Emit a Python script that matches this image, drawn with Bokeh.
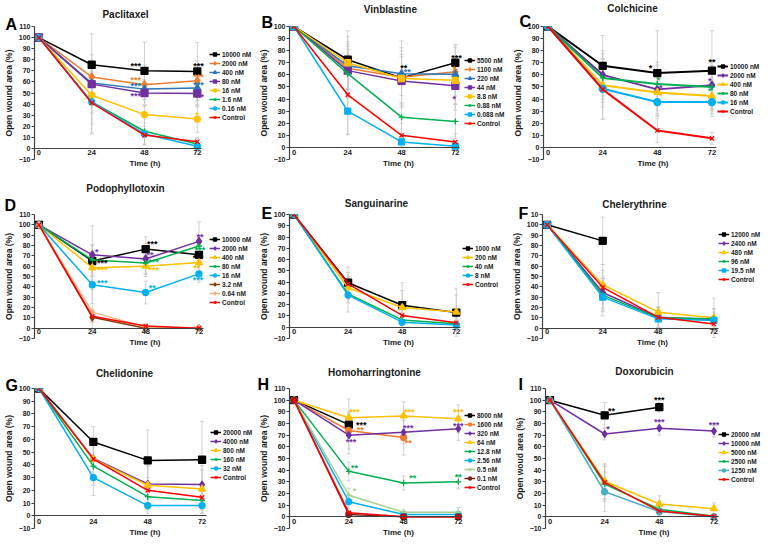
from bokeh.plotting import figure
from bokeh.models import (Range1d, FixedTicker, Legend, LegendItem, Title, LinearAxis,
                          Whisker, ColumnDataSource, TeeHead)
from bokeh.layouts import row, column
from bokeh.embed import file_html
from bokeh.resources import INLINE
from bokeh.core.properties import value

TIMES = [0, 24, 48, 72]
X_TICKS = [0, 24, 48, 72]
YLABEL = "Open wound area (%)"
XLABEL = "Time (h)"

# ---------------- A: Paclitaxel ----------------
A_TITLE = "Paclitaxel"
A_LABELS = ["10000 nM", "2000 nM", "400 nM", "80 nM", "16 nM", "1.6 nM", "0.16 nM", "Control"]
A_VALUES = [[100, 75.5, 70.0, 69.5], [100, 64.5, 57.5, 61.0], [100, 59.0, 53.5, 54.5],
            [100, 58.0, 50.0, 49.5], [100, 48.0, 30.5, 26.5], [100, 42.0, 15.5, 4.0],
            [100, 42.0, 13.0, 2.0], [100, 41.0, 12.0, 6.0]]
A_ERRORS = [[0, 28, 26, 26], [0, 20, 18, 18], [0, 18, 15, 15], [0, 16, 12, 12],
            [0, 16, 14, 12], [0, 20, 12, 5], [0, 28, 10, 4], [0, 28, 8, 4]]
A_STAR_X = [44, 44, 44, 44, 72.5, 72.5, 72.5, 72.5, 72]
A_STAR_Y = [74, 62, 56, 47, 74, 64, 57.5, 46, 30]
A_STAR_T = ["***", "***", "***", "***", "***", "***", "***", "***", "*"]
A_STAR_S = [0, 1, 2, 3, 0, 1, 2, 3, 4]

# ---------------- B: Vinblastine ----------------
B_TITLE = "Vinblastine"
B_LABELS = ["5500 nM", "1100 nM", "220 nM", "44 nM", "8.8 nM", "0.88 nM", "0.088 nM", "Control"]
B_VALUES = [[100, 72.5, 57.5, 70.0], [100, 65.5, 58.0, 62.5], [100, 67.5, 61.0, 60.5],
            [100, 63.5, 55.0, 51.0], [100, 70.0, 57.0, 55.5], [100, 61.0, 25.0, 21.5],
            [100, 30.0, 4.5, 1.0], [100, 43.5, 10.0, 4.5]]
B_ERRORS = [[0, 24, 25, 15], [0, 20, 22, 20], [0, 20, 27, 24], [0, 20, 20, 20],
            [0, 22, 20, 20], [0, 20, 18, 14], [0, 19, 4, 3], [0, 33, 10, 7]]
B_STAR_X = [49, 50.5, 72.5, 71.5, 48.5, 71.5]
B_STAR_Y = [66, 62.5, 74, 65, 51.5, 40]
B_STAR_T = ["**", "**", "***", "*", "*", "*"]
B_STAR_S = [0, 2, 0, 1, 3, 3]

# ---------------- C: Colchicine ----------------
C_TITLE = "Colchicine"
C_LABELS = ["10000 nM", "2000 nM", "400 nM", "80 nM", "16 nM", "Control"]
C_VALUES = [[100, 67.5, 61.5, 63.5], [100, 60.0, 48.0, 51.5], [100, 51.5, 45.5, 42.5],
            [100, 57.5, 52.5, 50.0], [100, 48.5, 37.5, 37.5], [100, 48.0, 14.0, 7.5]]
C_ERRORS = [[0, 25, 35, 33], [0, 20, 20, 20], [0, 18, 15, 15], [0, 20, 18, 18],
            [0, 25, 12, 12], [0, 25, 10, 5]]
C_STAR_X = [45, 72, 48.5, 49.5, 49.5, 71, 71, 71]
C_STAR_Y = [66, 71, 55.5, 49.5, 42.5, 55, 47, 35]
C_STAR_T = ["*", "**", "*", "*", "*", "*", "*", "*"]
C_STAR_S = [0, 0, 3, 1, 2, 1, 3, 4]

# ---------------- D: Podophyllotoxin ----------------
D_TITLE = "Podophyllotoxin"
D_LABELS = ["10000 nM", "2000 nM", "400 nM", "80 nM", "16 nM", "3.2 nM", "0.64 nM", "Control"]
D_VALUES = [[100, 65.0, 76.5, 71.0], [100, 71.0, 67.0, 84.0], [100, 58.5, 60.0, 63.5],
            [100, 66.0, 63.0, 79.5], [100, 42.0, 34.5, 52.5], [100, 10.5, 0.0, 0.0],
            [100, 15.5, 1.0, 0.0], [100, 11.5, 2.0, 0.0]]
D_ERRORS = [[0, 15, 12, 10], [0, 28, 15, 19], [0, 12, 10, 10], [0, 15, 10, 10],
            [0, 18, 11, 8], [0, 5, 1, 1], [0, 22, 2, 1], [0, 5, 2, 1]]
D_STAR_X = [26, 28.5, 28.5, 28.5, 51, 50, 51.5, 51.5, 51, 72.5, 72.5, 71.5, 71, 71.5]
D_STAR_Y = [74, 63, 56, 44, 81.5, 71, 64, 56, 39, 88.5, 76, 68, 58, 47]
D_STAR_T = ["*", "***", "***", "***", "***", "**", "***", "***", "**", "**", "***", "***", "**", "***"]
D_STAR_S = [1, 0, 2, 4, 0, 1, 3, 2, 4, 1, 3, 0, 2, 4]

# ---------------- E: Sanguinarine ----------------
E_TITLE = "Sanguinarine"
E_LABELS = ["1000 nM", "200 nM", "40 nM", "8 nM", "Control"]
E_VALUES = [[100, 39.5, 19.5, 13.0], [100, 35.0, 17.5, 13.5], [100, 29.5, 6.5, 3.0],
            [100, 28.5, 4.5, 2.0], [100, 38.5, 10.5, 4.0]]
E_ERRORS = [[0, 14, 20, 21], [0, 10, 15, 15], [0, 8, 5, 4], [0, 15, 5, 3], [0, 10, 8, 5]]
E_STAR_X, E_STAR_Y, E_STAR_T, E_STAR_S = [], [], [], []

# ---------------- F: Chelerythrine ----------------
F_TITLE = "Chelerythrine"
F_LABELS = ["12000 nM", "2400 nM", "480 nM", "96 nM", "19.5 nM", "Control"]
F_VALUES = [[100, 84.5], [100, 34.5, 10.5, 8.5], [100, 42.0, 15.5, 10.0],
            [100, 32.0, 10.0, 9.0], [100, 30.0, 9.0, 7.5], [100, 39.5, 10.5, 4.0]]
F_ERRORS = [[0, 23], [0, 15, 10, 10], [0, 14, 19, 19], [0, 16, 10, 10],
            [0, 18, 8, 8], [0, 22, 10, 8]]
F_STAR_X, F_STAR_Y, F_STAR_T, F_STAR_S = [], [], [], []

# ---------------- G: Chelidonine ----------------
G_TITLE = "Chelidonine"
G_LABELS = ["20000 nM", "4000 nM", "800 nM", "160 nM", "32 nM", "Control"]
G_VALUES = [[100, 58.0, 43.5, 44.0], [100, 45.0, 25.0, 24.5], [100, 44.5, 24.0, 21.0],
            [100, 39.0, 15.0, 12.0], [100, 30.0, 8.0, 8.0], [100, 44.5, 20.0, 14.5]]
G_ERRORS = [[0, 12, 24, 30], [0, 15, 15, 15], [0, 15, 15, 15], [0, 15, 10, 10],
            [0, 14, 6, 6], [0, 15, 10, 10]]
G_STAR_X, G_STAR_Y, G_STAR_T, G_STAR_S = [], [], [], []

# ---------------- H: Homoharringtonine ----------------
H_TITLE = "Homoharringtonine"
H_LABELS = ["8000 nM", "1600 nM", "320 nM", "64 nM", "12.8 nM", "2.56 nM", "0.5 nM", "0.1 nM", "Control"]
H_VALUES = [[100, 79.0], [100, 74.0, 68.0], [100, 70.0, 72.5, 75.5], [100, 85.0, 86.5, 84.0],
            [100, 39.0, 29.0, 30.0], [100, 13.0, 2.0, 2.0], [100, 18.5, 4.0, 4.0],
            [100, 2.0, 0.0, 0.0], [100, 3.5, 0.0, 0.0]]
H_ERRORS = [[0, 10], [0, 16, 15], [0, 16, 10, 10], [0, 16, 12, 12], [0, 8, 6, 6],
            [0, 6, 2, 2], [0, 6, 2, 4], [0, 2, 1, 1], [0, 2, 1, 1]]
H_STAR_X = [26.5, 29.5, 29, 25, 50, 72, 50, 50.5, 72, 26.5, 52, 72, 26.5]
H_STAR_Y = [90, 79, 74.5, 64.5, 76.5, 78, 63.5, 90, 89.5, 42, 33, 34.5, 22]
H_STAR_T = ["***", "***", "**", "***", "***", "***", "**", "***", "***", "**", "**", "**", "*"]
H_STAR_S = [3, 0, 1, 2, 2, 2, 1, 3, 3, 4, 4, 4, 6]

# ---------------- I: Doxorubicin ----------------
I_TITLE = "Doxorubicin"
I_YLABEL = "Open woud area (%)"
I_LABELS = ["20000 nM", "10000 nM", "5000 nM", "2500 nM", "1250 nM", "Control"]
I_VALUES = [[100, 87.0, 94.0], [100, 71.0, 76.0, 73.5], [100, 30.5, 11.0, 7.0],
            [100, 28.0, 6.5, 0.5], [100, 21.5, 4.5, 0.0], [100, 29.5, 5.0, 0.5]]
I_ERRORS = [[0, 11, 4], [0, 5, 6, 5], [0, 15, 7, 5], [0, 15, 5, 2], [0, 17, 4, 2], [0, 15, 4, 2]]
I_STAR_X = [27, 48, 25.5, 48, 72]
I_STAR_Y = [91, 100, 75, 81, 79]
I_STAR_T = ["**", "***", "*", "***", "***"]
I_STAR_S = [0, 0, 1, 1, 1]

# ---------------- styles ----------------
BLACK, ORANGE, BLUE, PURPLE = "#000000", "#ED7D31", "#2E75B6", "#7030A0"
GOLD, GREEN, LBLUE, RED = "#FFC000", "#00B050", "#00B0F0", "#FF0000"
BROWN, PEACH, PALEGREEN, DARKRED, TEAL = "#843C0C", "#F4B183", "#A9D18E", "#7B2020", "#4BACC6"

STY = {
    "A": [(BLACK, "square", 7), (ORANGE, "diamond", 8), (BLUE, "triangle", 7), (PURPLE, "square", 7),
          (GOLD, "circle", 6), (GREEN, "cross", 6), (LBLUE, "circle", 6), (RED, "x", 6)],
    "B": [(BLACK, "square", 7), (ORANGE, "diamond", 8), (BLUE, "triangle", 7), (PURPLE, "square", 7),
          (GOLD, "square", 6), (GREEN, "cross", 6), (LBLUE, "square", 6), (RED, "x", 6)],
    "C": [(BLACK, "square", 7), (PURPLE, "diamond", 8), (GOLD, "triangle", 7), (GREEN, "cross", 6),
          (LBLUE, "circle", 7), (RED, "x", 6)],
    "D": [(BLACK, "square", 7), (PURPLE, "diamond", 8), (GOLD, "triangle", 7), (GREEN, "cross", 6),
          (LBLUE, "circle", 6), (BROWN, "diamond", 7), (PEACH, "diamond", 7), (RED, "x", 6)],
    "E": [(BLACK, "square", 7), (GOLD, "triangle", 7), (GREEN, "cross", 6), (LBLUE, "circle", 6), (RED, "x", 6)],
    "F": [(BLACK, "square", 7), (PURPLE, "diamond", 8), (GOLD, "triangle", 7), (GREEN, "cross", 6),
          (LBLUE, "square", 6), (RED, "x", 6)],
    "G": [(BLACK, "square", 7), (PURPLE, "diamond", 7), (GOLD, "triangle", 7), (GREEN, "cross", 6),
          (LBLUE, "circle", 6), (RED, "x", 6)],
    "H": [(BLACK, "square", 7), (ORANGE, "circle", 6), (PURPLE, "diamond", 7), (GOLD, "triangle", 7),
          (GREEN, "cross", 6), (LBLUE, "circle", 6), (PALEGREEN, "cross", 6), (DARKRED, "circle", 6), (RED, "x", 6)],
    "I": [(BLACK, "square", 7), (PURPLE, "diamond", 7), (GOLD, "triangle", 7), (GREEN, "cross", 6),
          (TEAL, "circle", 6), (RED, "x", 6)],
}

# layout in pixels: W/H figure size, L/T/B borders, FW data-area width, letter x and baseline
# offset from the frame top, title centre, legend offsets
GEOM = {
    "A": dict(W=255, H=180, L=29, FW=171, T=14, B=20, lx=0, d=-1, tcx=120, gx=4, gy=38, ymax=110, lw=1.5),
    "B": dict(W=252, H=180, L=28, FW=175, T=19, B=21, lx=0, d=-6, tcx=129, gx=0, gy=32, ymax=100, lw=1.5),
    "C": dict(W=255, H=180, L=36, FW=173, T=23, B=18, lx=12, d=-7, tcx=125, gx=1, gy=44, ymax=100, lw=2.0),
    "D": dict(W=255, H=179, L=30, FW=172, T=26, B=17, lx=0, d=-15, tcx=121, gx=3, gy=32, ymax=110, lw=1.5),
    "E": dict(W=252, H=179, L=28, FW=176, T=22, B=21, lx=0, d=0, tcx=115, gx=-3, gy=50, ymax=100, lw=1.5),
    "F": dict(W=255, H=179, L=35, FW=176, T=20, B=18, lx=11, d=1, tcx=127, gx=0, gy=55, ymax=110, lw=1.5),
    "G": dict(W=255, H=184, L=29, FW=176, T=28, B=13, lx=0, d=-4, tcx=119, gx=0, gy=47, ymax=100, lw=1.5),
    "H": dict(W=252, H=184, L=32, FW=175, T=28, B=13, lx=0, d=-5, tcx=117, gx=0, gy=37, ymax=110, lw=1.5),
    "I": dict(W=255, H=184, L=38, FW=173, T=29, B=15, lx=11, d=-6, tcx=137, gx=0, gy=45, ymax=110, lw=1.5),
}

FONT = "Liberation Sans"
TXT = "#1a1a1a"
# bold sans advance widths (per 1000 em) for centring the panel titles
CW = {"P": 667, "a": 556, "c": 556, "l": 278, "i": 278, "t": 333, "x": 556, "e": 556, "V": 667,
      "n": 611, "b": 611, "s": 556, "C": 722, "h": 611, "o": 611, "d": 611, "y": 556, "p": 611,
      "S": 667, "u": 611, "g": 611, "r": 389, "H": 722, "m": 889, "D": 722}


def make_panel(letter, title, labels, values, errors, sx, sy, st, ss, ylabel=YLABEL, overrides=None):
    g = GEOM[letter]
    sty = STY[letter]
    full_w = g["W"] - g["L"]
    x_end = -2 + 76 * full_w / g["FW"]
    p = figure(width=g["W"], height=g["H"],
               min_border_left=g["L"], min_border_right=0,
               min_border_top=g["T"], min_border_bottom=g["B"],
               x_range=Range1d(-2, x_end), y_range=Range1d(-10, g["ymax"]),
               output_backend="svg", toolbar_location=None, title=title)
    p.outline_line_color = None
    p.grid.visible = False
    tw = sum(CW.get(ch, 600) for ch in title) / 100.0
    p.title.align = "left"
    p.title.offset = g["tcx"] - g["L"] - tw / 2
    p.title.text_font = FONT
    p.title.text_font_size = "10px"
    p.title.text_font_style = "bold"
    p.title.text_color = TXT
    p.title.standoff = 1

    # panel letter: an outer title pulled down next to the frame top
    s2 = -14 - g["d"]
    p.add_layout(Title(text=letter, align="left", offset=g["lx"] - g["L"], standoff=round(s2),
                       text_font=FONT, text_font_size="16px", text_font_style="bold",
                       text_color="#000000"), "above")

    ya = p.yaxis[0]
    ya.ticker = FixedTicker(ticks=list(range(-10, g["ymax"] + 1, 10)))
    ya.axis_label = ylabel
    ya.axis_label_text_font = FONT
    ya.axis_label_text_font_size = "8.5px"
    ya.axis_label_text_font_style = "bold"
    ya.axis_label_text_color = TXT
    ya.axis_label_standoff = 2
    ya.major_label_text_font = FONT
    ya.major_label_text_font_size = "7px"
    ya.major_label_text_font_style = "bold"
    ya.major_label_text_color = TXT
    ya.major_label_standoff = 1
    ya.major_tick_out = 3
    ya.major_tick_in = 0
    ya.minor_tick_out = 0
    ya.minor_tick_in = 0
    ya.axis_line_color = "#404040"
    ya.axis_line_width = 1.2
    ya.major_tick_line_color = "#404040"
    if overrides:
        ya.major_label_overrides = overrides

    xa = p.xaxis[0]
    xa.ticker = FixedTicker(ticks=X_TICKS)
    xa.axis_line_color = None
    xa.major_tick_line_color = None
    xa.minor_tick_line_color = None
    xa.major_tick_out = 0
    xa.major_tick_in = 0
    xa.major_label_standoff = -10
    xa.major_label_text_font = FONT
    xa.major_label_text_font_size = "7.5px"
    xa.major_label_text_font_style = "bold"
    xa.major_label_text_color = TXT
    xa.axis_label = XLABEL
    xa.axis_label_standoff = 1
    xa.axis_label_text_font = FONT
    xa.axis_label_text_font_size = "8px"
    xa.axis_label_text_font_style = "bold"
    xa.axis_label_text_color = TXT

    # the visible time axis line, crossing at 0 %
    zax = LinearAxis(fixed_location=0, bounds=(-2, 74), ticker=FixedTicker(ticks=[]),
                     axis_line_color="#404040", axis_line_width=1.2,
                     major_tick_out=0, major_tick_in=0, minor_tick_out=0, minor_tick_in=0,
                     major_label_standoff=0)
    p.add_layout(zax, "below")

    # error bars
    base, up, lo = [], [], []
    for vals, errs in zip(values, errors):
        for i in range(1, len(vals)):
            base.append(TIMES[i])
            up.append(vals[i] + errs[i])
            lo.append(vals[i] - errs[i])
    src = ColumnDataSource(dict(base=base, upper=up, lower=lo))
    p.add_layout(Whisker(source=src, base="base", upper="upper", lower="lower", dimension="height",
                         line_color="#C8C8C8", line_width=0.8, level="underlay",
                         upper_head=TeeHead(size=4, line_color="#C8C8C8", line_width=0.8),
                         lower_head=TeeHead(size=4, line_color="#C8C8C8", line_width=0.8)))

    items = []
    for lab, vals, (c, m, s) in zip(labels, values, sty):
        xs = TIMES[:len(vals)]
        lr = p.line(xs, vals, line_color=c, line_width=g["lw"])
        sr = p.scatter(xs, vals, marker=m, size=s, fill_color=c, line_color=c, line_width=1.3)
        items.append(LegendItem(label=lab, renderers=[lr, sr]))

    if sx:
        ssrc = ColumnDataSource(dict(x=sx, y=sy, t=st, c=[sty[i][0] for i in ss]))
        p.text(x="x", y="y", text="t", text_color="c", source=ssrc, text_font=value(FONT),
               text_font_size="9px", text_font_style="bold", text_align="center",
               text_baseline="middle")

    leg = Legend(items=items, location=(g["FW"] + g["gx"], g["gy"]))
    leg.label_text_font = FONT
    leg.label_text_font_size = "6.5px"
    leg.label_text_font_style = "bold"
    leg.label_text_color = TXT
    leg.glyph_width = 11
    leg.glyph_height = 8
    leg.label_height = 8
    leg.label_standoff = 2
    leg.spacing = 1
    leg.padding = 0
    leg.margin = 0
    leg.border_line_color = None
    leg.background_fill_alpha = 0
    p.add_layout(leg)
    return p


pA = make_panel("A", A_TITLE, A_LABELS, A_VALUES, A_ERRORS, A_STAR_X, A_STAR_Y, A_STAR_T, A_STAR_S)
pB = make_panel("B", B_TITLE, B_LABELS, B_VALUES, B_ERRORS, B_STAR_X, B_STAR_Y, B_STAR_T, B_STAR_S)
pC = make_panel("C", C_TITLE, C_LABELS, C_VALUES, C_ERRORS, C_STAR_X, C_STAR_Y, C_STAR_T, C_STAR_S)
pD = make_panel("D", D_TITLE, D_LABELS, D_VALUES, D_ERRORS, D_STAR_X, D_STAR_Y, D_STAR_T, D_STAR_S)
pE = make_panel("E", E_TITLE, E_LABELS, E_VALUES, E_ERRORS, E_STAR_X, E_STAR_Y, E_STAR_T, E_STAR_S)
pF = make_panel("F", F_TITLE, F_LABELS, F_VALUES, F_ERRORS, F_STAR_X, F_STAR_Y, F_STAR_T, F_STAR_S,
                overrides={110: "10"})
pG = make_panel("G", G_TITLE, G_LABELS, G_VALUES, G_ERRORS, G_STAR_X, G_STAR_Y, G_STAR_T, G_STAR_S)
pH = make_panel("H", H_TITLE, H_LABELS, H_VALUES, H_ERRORS, H_STAR_X, H_STAR_Y, H_STAR_T, H_STAR_S)
pI = make_panel("I", I_TITLE, I_LABELS, I_VALUES, I_ERRORS, I_STAR_X, I_STAR_Y, I_STAR_T, I_STAR_S,
                ylabel=I_YLABEL)

layout = column(row(pA, pB, pC), row(pD, pE, pF), row(pG, pH, pI))

with open("out.html", "w") as f:
    f.write(file_html(layout, INLINE))
